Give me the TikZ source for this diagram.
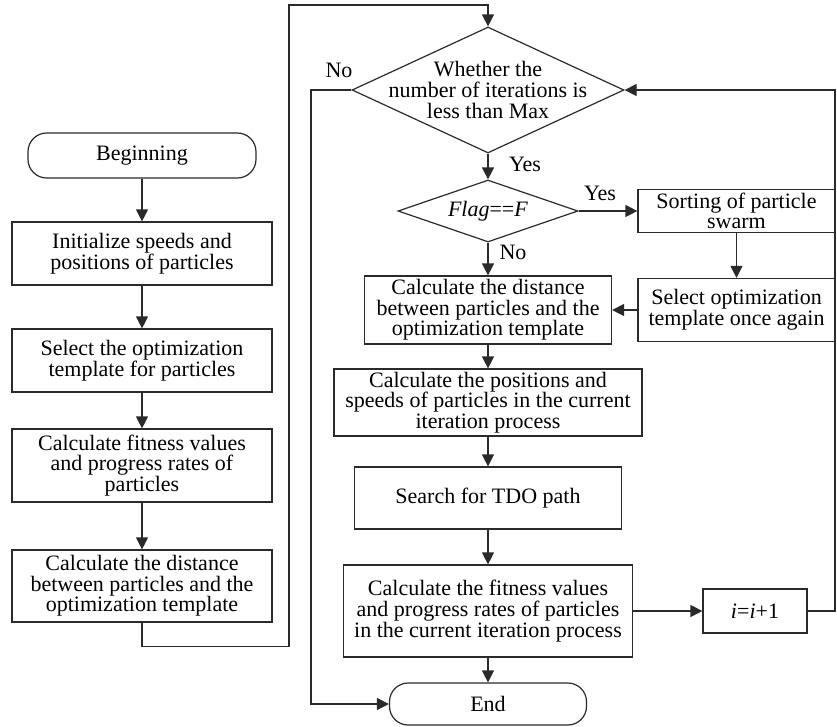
\documentclass[tikz,border=0pt]{standalone}
\usepackage{fontspec}
\setmainfont{Liberation Serif}
\usetikzlibrary{shapes.geometric, arrows.meta, positioning, calc}
\definecolor{linecolor}{HTML}{2A2A2A}

\begin{document}
\begin{tikzpicture}[x=0.75pt, y=-0.75pt,
    every node/.style={font=\fontsize{16.5}{15.5}\selectfont, text=black},
    box/.style={draw=linecolor, line width=0.9pt, align=center, inner sep=2pt},
    term/.style={box, rounded corners=14pt},
    dec/.style={draw=linecolor, line width=0.9pt, diamond, inner sep=0pt},
    flow/.style={draw=linecolor, line width=0.9pt, -{Triangle[length=9pt, width=9pt]}},
    lbl/.style={inner sep=1pt}]
    \useasboundingbox (0,0) rectangle (837,726);

    % Left column
    \node[term, minimum width=171pt, minimum height=33.75pt] (begin) at (142,155.5) {Beginning};
    \node[box, minimum width=195pt, minimum height=47.25pt] (init) at (142,253.5) {Initialize speeds and\\positions of particles};
    \node[box, minimum width=195pt, minimum height=47.25pt] (select) at (142,360.5) {Select the optimization\\template for particles};
    \node[box, minimum width=195pt, minimum height=54.75pt] (fit) at (142,465.5) {Calculate fitness values\\and progress rates of\\particles};
    \node[box, minimum width=195pt, minimum height=54pt] (dist) at (142,586) {Calculate the distance\\between particles and the\\optimization template};

    % Decisions
    \node[dec, minimum width=204pt, minimum height=94.5pt,
          label={[align=center]center:{Whether the\\number of iterations is\\less than Max}}] (iter) at (488,90) {};
    \node[dec, minimum width=135pt, minimum height=46.5pt,
          label={center:{\textit{Flag}==\textit{F}}}] (flag) at (488,211) {};

    % Right column
    \node[box, minimum width=147.75pt, minimum height=32.25pt] (sort) at (736.5,211) {Sorting of particle\\swarm};
    \node[box, minimum width=147.75pt, minimum height=47.25pt] (again) at (736.5,310) {Select optimization\\template once again};
    \node[box, minimum width=185.25pt, minimum height=51pt] (dist2) at (488,310) {Calculate the distance\\between particles and the\\optimization template};
    \node[box, minimum width=231pt, minimum height=50.25pt] (pos) at (488,402.5) {Calculate the positions and\\speeds of particles in the current\\iteration process};
    \node[box, minimum width=200.25pt, minimum height=46.5pt] (search) at (488,498) {Search for TDO path};
    \node[box, minimum width=216.75pt, minimum height=69pt] (fit2) at (488,611) {Calculate the fitness values\\and progress rates of particles\\in the current iteration process};
    \node[box, minimum width=78pt, minimum height=33pt] (inc) at (755,611) {\textit{i}=\textit{i}+1};
    \node[term, minimum width=147.75pt, minimum height=31.5pt] (end) at (488,704) {End};

    % Bend points
    \coordinate (topbend) at (289,5);
    \coordinate (rbend) at (835,611);
    \coordinate (lbend) at (311,90);

    % Connectors
    \draw[flow] (begin) -- (init);
    \draw[flow] (init) -- (select);
    \draw[flow] (select) -- (fit);
    \draw[flow] (fit) -- (dist);
    \draw[flow] (dist.south) -- ++(0,24) -| (topbend) -| (iter.north);
    \draw[flow] (iter.south) -- (flag.north);
    \draw[flow] (flag.east) -- (sort.west);
    \draw[flow] (flag.south) -- (dist2.north);
    \draw[flow] (sort) -- (again);
    \draw[flow] (again) -- (dist2);
    \draw[flow] (dist2) -- (pos);
    \draw[flow] (pos) -- (search);
    \draw[flow] (search) -- (fit2);
    \draw[flow] (fit2) -- (end);
    \draw[flow] (fit2.east) -- (inc.west);
    \draw[flow] (inc.east) -- (rbend) |- (iter.east);
    \draw[flow] (iter.west) -- (lbend) |- (end.west);

    % Labels
    \node[lbl] (no1) at (339,70) {No};
    \node[lbl] (yes1) at (525,164) {Yes};
    \node[lbl] (yes2) at (600,193) {Yes};
    \node[lbl] (no2) at (513,252) {No};
\end{tikzpicture}
\end{document}
